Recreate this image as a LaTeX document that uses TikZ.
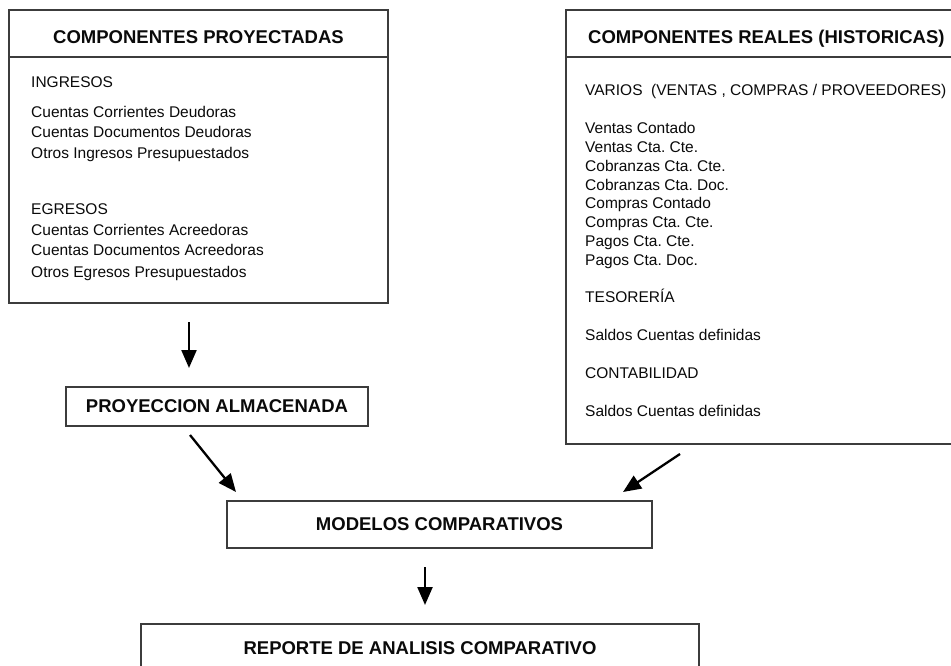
\documentclass[tikz,border=0pt]{standalone}
\usepackage{fontspec}
\setmainfont{Liberation Sans}
\usepackage{tikz}
\usetikzlibrary{arrows.meta}
\frenchspacing
\definecolor{bordegris}{RGB}{60,60,60}
\definecolor{textonegro}{RGB}{10,10,10}
\tikzset{
  caja/.style={draw=bordegris, line width=1.4pt, inner sep=0pt, outer sep=0pt},
  titulo/.style={font=\fontsize{18.5}{22}\selectfont\bfseries, text=textonegro, inner sep=0pt},
  linea/.style={font=\fontsize{15.5}{20}\selectfont, text=textonegro, inner sep=0pt, anchor=base west},
  flecha/.style={-{Triangle[length=18pt,width=15pt]}, line width=2.3pt, black},
}

\begin{document}
\begin{tikzpicture}[x=1pt, y=-1pt]
\useasboundingbox (0,0) rectangle (951,666);
\clip (0,0) rectangle (951,666);
\fill[white] (0,0) rectangle (951,666);
% cajas de componentes
\node[caja, minimum width=379pt, minimum height=293pt] (proy) at (198.5,156.5) {};
\node[caja, minimum width=394pt, minimum height=434pt] (real) at (763,227) {};
\draw[bordegris, line width=1.4pt] ([yshift=-47pt]proy.north west) -- ([yshift=-47pt]proy.north east);
\draw[bordegris, line width=1.4pt] ([yshift=-47pt]real.north west) -- ([yshift=-47pt]real.north east);
\node[titulo, anchor=base] (tproy) at (198.5,44) {COMPONENTES PROYECTADAS};
\node[titulo, anchor=base west] (treal) at (588,44) {COMPONENTES REALES (HISTORICAS)};
% renglones proyectados
\foreach \y/\t [count=\i] in {87.5/INGRESOS, 117.5/Cuentas Corrientes Deudoras,
    137.5/Cuentas Documentos Deudoras, 158.5/Otros Ingresos Presupuestados,
    214.5/EGRESOS, 235.5/Cuentas Corrientes Acreedoras,
    255.5/Cuentas Documentos Acreedoras, 277/Otros Egresos Presupuestados}
  \node[linea] (p\i) at (31,\y) {\t};
% renglones reales
\foreach \y/\t [count=\i] in {96/{VARIOS\ \ (VENTAS , COMPRAS / PROVEEDORES)},
    133.5/Ventas Contado, 152.5/Ventas Cta. Cte., 171.5/Cobranzas Cta. Cte.,
    190/Cobranzas Cta. Doc., 208.5/Compras Contado, 227.5/Compras Cta. Cte.,
    246.5/Pagos Cta. Cte., 265.5/Pagos Cta. Doc., 302.5/TESORERÍA,
    340.5/Saldos Cuentas definidas, 378.5/CONTABILIDAD, 416.5/Saldos Cuentas definidas}
  \node[linea] (r\i) at (585,\y) {\t};
% cajas del flujo
\node[caja, titulo, draw=bordegris, minimum width=302pt, minimum height=39pt] (alm) at (217,406.5) {PROYECCION ALMACENADA};
\node[caja, titulo, draw=bordegris, minimum width=425pt, minimum height=47pt] (mod) at (439.5,524.5) {MODELOS COMPARATIVOS};
\node[caja, titulo, draw=bordegris, minimum width=558pt, minimum height=48pt] (rep) at (420,648) {REPORTE DE ANALISIS COMPARATIVO};
% flechas
\draw[flecha] ([xshift=-9.5pt,yshift=-19pt]proy.south) -- ([xshift=-28pt,yshift=19pt]alm.north);
\draw[flecha] ([xshift=-27pt,yshift=-9pt]alm.south) -- ([xshift=-203.5pt,yshift=9pt]mod.north);
\draw[flecha] ([xshift=-83pt,yshift=-10pt]real.south) -- ([xshift=183.5pt,yshift=9pt]mod.north);
\draw[flecha] ([xshift=-14.5pt,yshift=-19pt]mod.south) -- ([xshift=5pt,yshift=19pt]rep.north);
\end{tikzpicture}
\end{document}
